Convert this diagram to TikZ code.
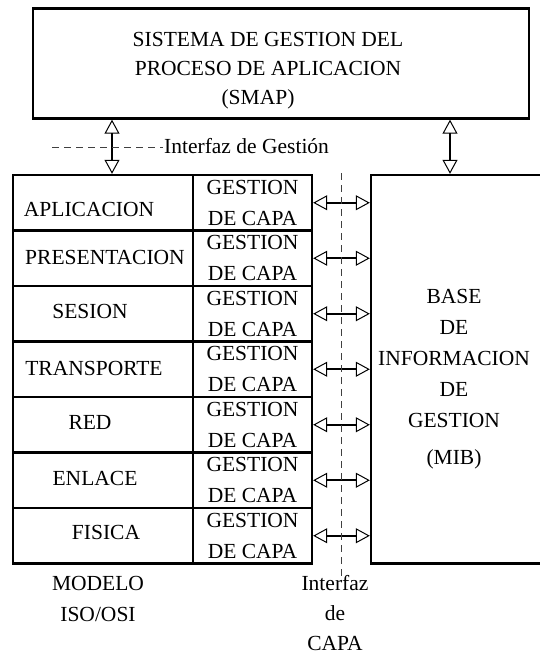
\documentclass[tikz,border=0pt]{standalone}
\usepackage{fontspec}
\setmainfont{Liberation Serif}
\usetikzlibrary{arrows.meta}

\begin{document}
\begin{tikzpicture}[
  x=1pt, y=-1pt,
  % cajas de borde grueso
  caja/.style={rectangle, draw=black, line width=2.4pt, inner sep=0pt},
  capa/.style={caja, minimum width=180pt, minimum height=55.5pt},
  gcapa/.style={caja, minimum width=119pt, minimum height=55.5pt,
                align=center, font=\fontsize{21.5}{31}\selectfont},
  txt/.style={inner sep=1pt, align=center, font=\fontsize{21.5}{31}\selectfont},
  % flecha doble con puntas huecas
  dflecha/.style={{Triangle[open, length=14pt, width=15pt, line width=1pt]}-%
                  {Triangle[open, length=14pt, width=15pt, line width=1pt]},
                  line width=2.4pt},
  interfaz/.style={dash pattern=on 7pt off 5pt, line width=1pt, black!75}
]
\useasboundingbox (0,0) rectangle (540,656);
\clip (0,0) rectangle (540,656);

%% -- sistema de gestion (arriba) --
\node[caja, minimum width=496pt, minimum height=110pt] (smap) at (281,63.5) {};
\node[txt, font=\fontsize{21.5}{29}\selectfont] (smapT) at (268,71)
    {SISTEMA DE GESTION DEL\\PROCESO DE APLICACION\\\hspace*{-20pt}(SMAP)};

%% -- pila de capas ISO/OSI + gestion de capa --
\foreach \nm/\dx/\dy [count=\i] in {APLICACION/-14/7, PRESENTACION/2/-1,
    SESION/-13/-2, TRANSPORTE/-9/-1, RED/-13/-2, ENLACE/-8/-2, FISICA/3/-3}{
  \pgfmathsetmacro\yc{175+55.5*\i-27.75}
  \node[capa] (capa\i) at (103,\yc) {};
  \node[txt] (nom\i) at ({103+(\dx)},{\yc+(\dy)}) {\nm};
  \node[gcapa] (gest\i) at (252.5,\yc) {GESTION\\DE CAPA};
}

%% -- base de informacion (MIB) --
\node[caja, minimum width=180pt, minimum height=388.5pt] (mib) at (461,369.25) {};
\node[txt] (mibT) at (454,379)
    {BASE\\DE\\INFORMACION\\DE\\GESTION\\[6pt](MIB)};

% flechas capa <-> MIB
\foreach \i in {1,...,7}
  \draw[dflecha] (gest\i.east) -- (gest\i.east -| mib.west);

% flechas verticales desde SMAP
\coordinate (ejeI) at (112,0);
\coordinate (ejeD) at (450,0);
\draw[dflecha] (ejeI |- smap.south) -- (ejeI |- capa1.north);
\draw[dflecha] (ejeD |- smap.south) -- (ejeD |- mib.north);

%% -- interfaces --
\node[txt, anchor=west] (intG) at (163,146) {Interfaz de Gestión};
\coordinate (gI) at (52,147);
\draw[interfaz] (gI) -- (gI -| intG.west);

\coordinate (cA) at (341,173);
\coordinate (cB) at (341,578);
\draw[interfaz] (cA) -- (cB);
\node[txt, font=\fontsize{21.5}{30}\selectfont] (intC) at (335,613)
    {Interfaz\\de\\CAPA};

\node[txt] (modelo) at (98,599) {MODELO\\ISO/OSI};

\end{tikzpicture}
\end{document}
